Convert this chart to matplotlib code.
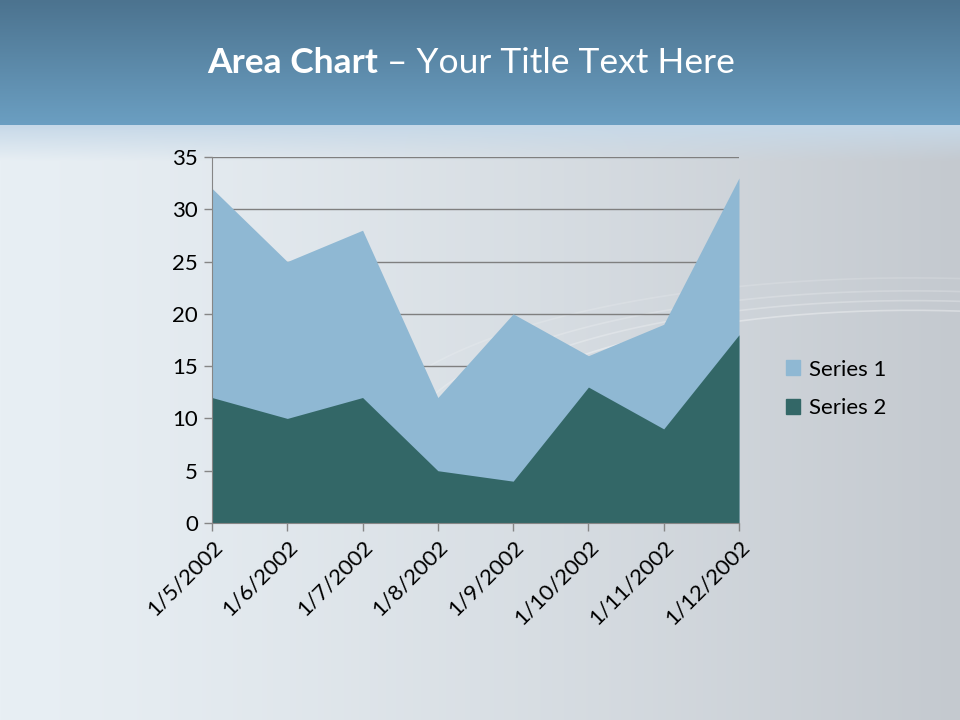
import numpy as np
import matplotlib.pyplot as plt
from matplotlib.patches import Patch

# chart data
dates = ["1/5/2002", "1/6/2002", "1/7/2002", "1/8/2002",
         "1/9/2002", "1/10/2002", "1/11/2002", "1/12/2002"]
series1 = [32, 25, 28, 12, 20, 16, 19, 33]
series2 = [12, 10, 12, 5, 4, 13, 9, 18]
yticks = [0, 5, 10, 15, 20, 25, 30, 35]

FONT = ["Lato", "DejaVu Sans"]
c1 = "#8fb8d3"
c2 = "#336767"


def background(fig):
    # slide background: blue header band over a pale grey-blue body
    h, w = 720, 960
    yy, xx = np.mgrid[0:h, 0:w] / np.array([h, w])[:, None, None]
    top = np.array([0x4c, 0x73, 0x8f]) / 255
    mid = np.array([0x6b, 0x9f, 0xc2]) / 255
    band = 125 / 720
    t = np.clip(yy / band, 0, 1)[..., None]
    head = top * (1 - t) + mid * t
    left = np.array([0xe8, 0xef, 0xf4]) / 255
    right = np.array([0xc4, 0xc9, 0xcf]) / 255
    s = np.clip(xx, 0, 1)[..., None] ** 1.3
    body = left * (1 - s) + right * s
    # soft fade from the header into the body
    fade = np.clip((yy - band) / 0.05, 0, 1)[..., None]
    haze = np.array([0.78, 0.85, 0.91])
    body = haze * (1 - fade) + body * fade
    img = np.where((yy < band)[..., None], head, body)
    bg = fig.add_axes([0, 0, 1, 1], zorder=-10)
    bg.imshow(img, aspect="auto", extent=[0, 1, 0, 1], origin="upper")
    # faint light streaks on the right
    th = np.linspace(0, np.pi, 200)
    for r, a in [(0.42, 0.35), (0.45, 0.25), (0.48, 0.2), (0.52, 0.15)]:
        bg.plot(0.95 + r * np.cos(th) * 1.1, 0.38 + r * np.sin(th) * 0.45,
                color="white", alpha=a, lw=1.2)
    bg.set_xlim(0, 1)
    bg.set_ylim(0, 1)
    bg.axis("off")


def main():
    fig = plt.figure(figsize=(9.6, 7.2), dpi=100)
    background(fig)

    ax = fig.add_axes([212 / 960, 1 - 523 / 720, 527 / 960, 366 / 720])
    ax.patch.set_alpha(0)
    x = np.arange(len(dates))
    ax.fill_between(x, 0, series1, color=c1, lw=0, zorder=2)
    ax.fill_between(x, 0, series2, color=c2, lw=0, zorder=3)

    ax.set_xlim(0, len(dates) - 1)
    ax.set_ylim(0, 35)
    ax.set_yticks(yticks)
    ax.yaxis.grid(True, color="#7f7f7f", lw=1, zorder=1)
    ax.set_axisbelow(True)
    for sp in ["top", "right"]:
        ax.spines[sp].set_visible(False)
    for sp in ["left", "bottom"]:
        ax.spines[sp].set_color("#868686")
        ax.spines[sp].set_zorder(4)
    ax.tick_params(color="#868686", length=6, width=1, labelsize=16,
                   labelcolor="black", pad=4)
    ax.set_xticks(x)
    ax.set_xticklabels(dates, rotation=45, ha="right", rotation_mode="anchor",
                       fontfamily=FONT)
    for lab in ax.get_yticklabels():
        lab.set_fontfamily(FONT)

    handles = [Patch(color=c1, label="Series 1"), Patch(color=c2, label="Series 2")]
    fig.legend(handles=handles, loc="center left", bbox_to_anchor=(766 / 960, 1 - 389 / 720),
               frameon=False, prop={"family": FONT, "size": 16},
               handlelength=0.65, handleheight=0.65, handletextpad=0.4,
               labelspacing=0.85)

    # title: bold part then regular part
    t1 = fig.text(207 / 960, 1 - 63 / 720, "Area Chart", color="white",
                  fontsize=25.5, fontweight="bold", fontfamily=FONT, va="center")
    ax.annotate(" \u2013 Your Title Text Here", xy=(1, 0.5), xycoords=t1,
                va="center", ha="left", color="white", fontsize=25.5,
                fontfamily=FONT, annotation_clip=False)

    fig.savefig("out.png", dpi=100)


if __name__ == "__main__":
    main()
